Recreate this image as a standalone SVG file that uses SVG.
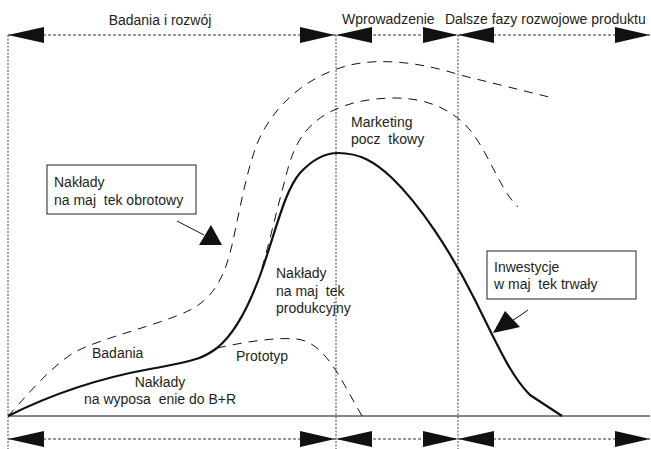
<svg xmlns="http://www.w3.org/2000/svg" width="651" height="449" viewBox="0 0 651 449">
<style>
  text { font-family: "Liberation Sans", Arial, sans-serif; font-size: 14px; fill: #231f20; white-space: pre; }
  .vdot { stroke: #444; stroke-width: 1; stroke-dasharray: 2 1.5; fill: none; }
  .hdot { stroke: #333; stroke-width: 1; stroke-dasharray: 3 2; fill: none; }
  .dash { stroke: #111; stroke-width: 1; stroke-dasharray: 9 7; fill: none; }
  .solid { stroke: #111; stroke-width: 2.2; fill: none; stroke-linejoin: round; }
  .box { fill: #fff; stroke: #222; stroke-width: 1; }
  .lead { stroke: #111; stroke-width: 1; fill: none; }
  .head { fill: #111; }
</style>
<defs>
  <path id="aL" d="M0,0 L36,-8 L36,8 Z"/>
  <path id="aR" d="M0,0 L-35,-8 L-35,8 Z"/>
</defs>
<rect width="651" height="449" fill="#fff"/>

<g id="axes">
  <line class="vdot" x1="8" y1="35" x2="8" y2="449"/>
  <line class="vdot" x1="336" y1="35" x2="336" y2="449"/>
  <line class="vdot" x1="458" y1="35" x2="458" y2="449"/>
  <line x1="8" y1="416" x2="650" y2="416" stroke="#111" stroke-width="1"/>
</g>

<g id="phases">
  <line class="hdot" x1="8" y1="35" x2="650" y2="35"/>
  <use href="#aL" x="8" y="35" class="head"/>
  <use href="#aR" x="335" y="35" class="head"/>
  <use href="#aL" x="336" y="35" class="head"/>
  <use href="#aR" x="458" y="35" class="head"/>
  <use href="#aL" x="458" y="35" class="head"/>
  <use href="#aR" x="650" y="35" class="head"/>
  <line class="hdot" x1="8" y1="439" x2="650" y2="439"/>
  <use href="#aL" x="8" y="439" class="head"/>
  <use href="#aR" x="335" y="439" class="head"/>
  <use href="#aL" x="336" y="439" class="head"/>
  <use href="#aR" x="458" y="439" class="head"/>
  <use href="#aL" x="458" y="439" class="head"/>
  <use href="#aR" x="650" y="439" class="head"/>
  <text x="160" y="25" text-anchor="middle">Badania i rozwój</text>
  <text x="342" y="24">Wprowadzenie</text>
  <text x="445" y="24">Dalsze fazy rozwojowe produktu</text>
</g>

<g id="curves">
  <path class="dash" d="M8,416 C25,398 45,372 73,353 C100,338 160,325 190,310 C215,297 225,275 232,245 C240,210 248,160 262,133 C280,100 310,75 350,65 C380,58 420,62 460,75 L553,98"/>
  <path class="dash" d="M262,268 C270,240 278,205 285,180 C292,150 300,135 315,122 C335,105 365,98 395,98 C430,98 455,112 470,130 C490,155 500,190 518,207"/>
  <path class="dash" d="M217,348 C245,342 275,337 297,339 C312,341 325,352 340,377 L362,416"/>
  <path class="solid" d="M8,416 C50,395 100,378 150,369 S205,357 217,348 C232,336 248,310 262,270 S285,190 300,173 C312,160 325,153 338,153 C360,153 375,162 392,178 C420,205 450,250 475,300 C495,340 510,375 530,395 L562,416"/>
</g>

<g id="box-obrotowy">
  <rect class="box" x="47" y="165" width="149" height="49"/>
  <text x="54" y="187">Nakłady</text>
  <text x="54" y="205">na maj  tek obrotowy</text>
</g>

<g id="box-trwaly">
  <rect class="box" x="487" y="251" width="149" height="48"/>
  <text x="494" y="272">Inwestycje</text>
  <text x="494" y="289">w maj  tek trwały</text>
</g>

<g id="connectors">
  <line class="lead" x1="177" y1="221" x2="204" y2="235"/>
  <polygon class="head" points="211,225 199,245 222,245"/>
  <line class="lead" x1="528" y1="310" x2="512" y2="321"/>
  <polygon class="head" points="493,333 505,311 520,327"/>
</g>

<g id="label-marketing">
  <text x="351" y="127">Marketing</text>
  <text x="351" y="144">pocz  tkowy</text>
</g>

<g id="label-produkcyjny">
  <text x="276" y="278">Nakłady</text>
  <text x="276" y="296">na maj  tek</text>
  <text x="276" y="313">produkcyjny</text>
</g>

<g id="label-prototyp">
  <text x="236" y="361">Prototyp</text>
</g>

<g id="label-badania">
  <text x="92" y="358">Badania</text>
</g>

<g id="label-wyposazenie">
  <text x="160" y="387" text-anchor="middle">Nakłady</text>
  <text x="160" y="404" text-anchor="middle">na wyposa  enie do B+R</text>
</g>
</svg>
